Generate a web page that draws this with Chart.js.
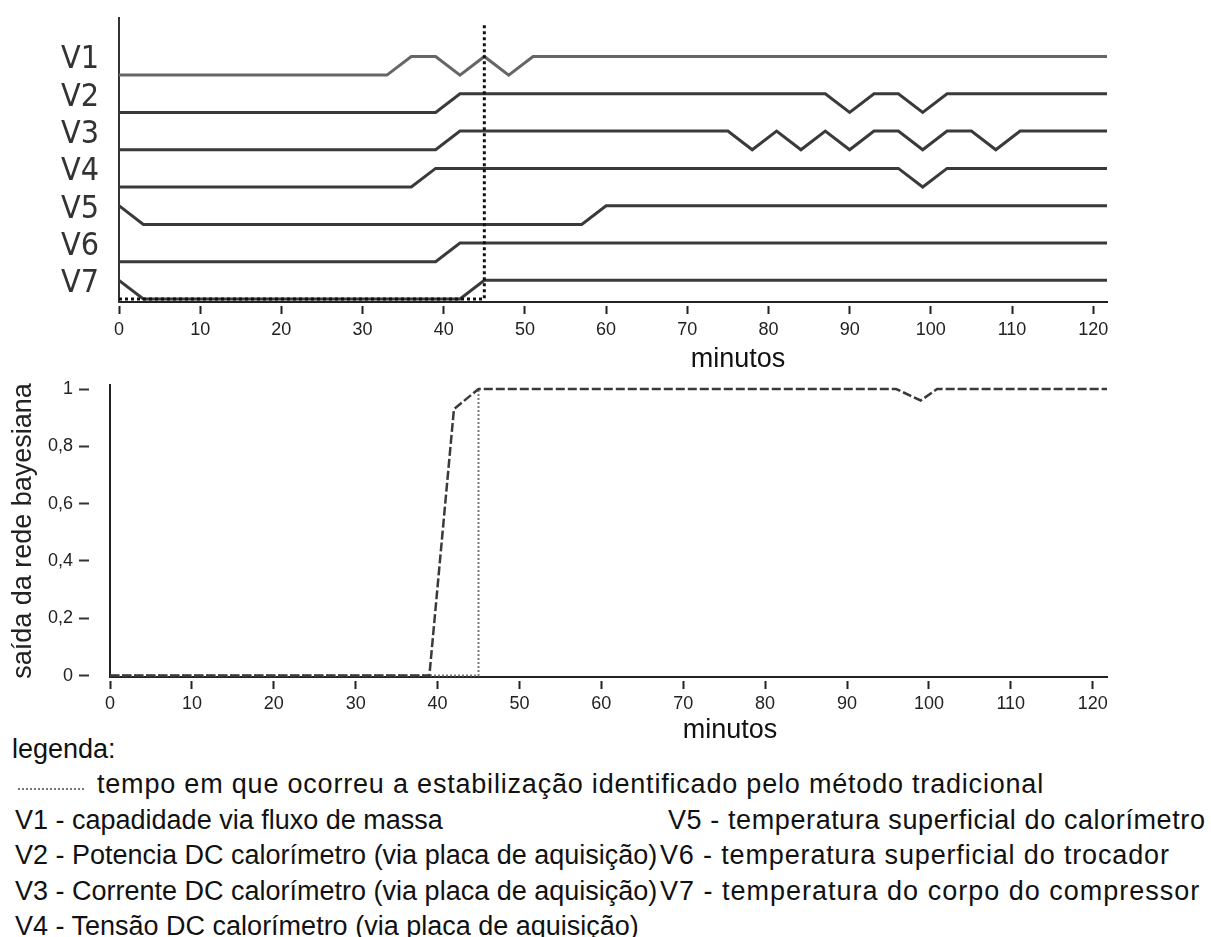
<!DOCTYPE html>
<html>
<head>
<meta charset="utf-8">
<script src="https://cdn.jsdelivr.net/npm/chart.js@4.4.1/dist/chart.umd.min.js"></script>
<style>
  body { margin: 0; background: #fff; width: 1211px; height: 937px; position: relative; overflow: hidden;
         font-family: "Liberation Sans", Arial, sans-serif; color: #111; }
  canvas { position: absolute; left: 0; }
  #topChart { top: 0; }
  #bottomChart { top: 345px; }
  .txt { position: absolute; font-size: 27px; line-height: 30px; white-space: nowrap; }
  .dots { position: absolute; height: 2px;
          background: repeating-linear-gradient(90deg, #777 0 2px, transparent 2px 4px); }
</style>
</head>
<body>
<canvas id="topChart" width="1211" height="345"></canvas>
<canvas id="bottomChart" width="1211" height="380"></canvas>

<div class="txt" style="left:638px;top:343px;width:200px;text-align:center">minutos</div>
<div class="txt" style="left:630px;top:714px;width:200px;text-align:center">minutos</div>

<div class="txt" style="left:12px;top:734px">legenda:</div>
<div class="dots" style="left:18px;top:788px;width:67px"></div>
<div class="txt" style="left:97px;top:769px;letter-spacing:0.8px">tempo em que ocorreu a estabilização identificado pelo método tradicional</div>
<div class="txt" style="left:15px;top:805px">V1 - capadidade via fluxo de massa</div>
<div class="txt" style="left:15px;top:840px">V2 - Potencia DC calorímetro (via placa de aquisição)</div>
<div class="txt" style="left:15px;top:876px">V3 - Corrente DC calorímetro (via placa de aquisição)</div>
<div class="txt" style="left:15px;top:911px">V4 - Tensão DC calorímetro (via placa de aquisição)</div>
<div class="txt" style="left:668px;top:805px;letter-spacing:0.6px">V5 - temperatura superficial do calorímetro</div>
<div class="txt" style="left:660px;top:840px;letter-spacing:0.85px">V6 - temperatura superficial do trocador</div>
<div class="txt" style="left:660px;top:876px;letter-spacing:1px">V7 - temperatura do corpo do compressor</div>

<script>
const rowNames = ["V1", "V2", "V3", "V4", "V5", "V6", "V7"];

// [minuto, nível 0/1] de cada variável
const v1 = [[0, 0], [33, 0], [36, 1], [39, 1], [42, 0], [45, 1], [48, 0], [51, 1], [122, 1]];
const v2 = [[0, 0], [39, 0], [42, 1], [87, 1], [90, 0], [93, 1], [96, 1], [99, 0], [102, 1], [122, 1]];
const v3 = [[0, 0], [39, 0], [42, 1], [75, 1], [78, 0], [81, 1], [84, 0], [87, 1], [90, 0], [93, 1],
            [96, 1], [99, 0], [102, 1], [105, 1], [108, 0], [111, 1], [122, 1]];
const v4 = [[0, 0], [36, 0], [39, 1], [96, 1], [99, 0], [102, 1], [122, 1]];
const v5 = [[0, 1], [3, 0], [57, 0], [60, 1], [122, 1]];
const v6 = [[0, 0], [39, 0], [42, 1], [122, 1]];
const v7 = [[0, 1], [3, 0], [42, 0], [45, 1], [122, 1]];

// saída da rede bayesiana e método tradicional
const bayesOut = [[0, 0], [39, 0], [42, 0.93], [45, 1], [96, 1], [99, 0.96], [101, 1], [122, 1]];
const tradicional = [[0, 0], [45, 0], [45, 1]];

const xTicks = [0, 10, 20, 30, 40, 50, 60, 70, 80, 90, 100, 110, 120];
const yTicks = [0, 0.2, 0.4, 0.6, 0.8, 1];

Chart.defaults.font.family = "'Liberation Sans', Arial, sans-serif";

const series = [v1, v2, v3, v4, v5, v6, v7];
const dotTop = 7.39;

// 📈 gráfico de cima
const topSets = series.map((s, i) => ({
  data: s.map(([m, l]) => ({ x: m, y: 6 - i + l * 0.5 })),
  borderColor: i === 0 ? "#666" : "#3a3a3a",
  borderWidth: 3,
  pointRadius: 0,
  tension: 0,
}));
topSets.unshift({
  data: tradicional.map(([m, l]) => ({ x: m, y: l ? dotTop : 0 })),
  borderColor: "#111",
  borderWidth: 3,
  borderDash: [3, 3],
  pointRadius: 0,
  tension: 0,
});

new Chart(document.getElementById("topChart"), {
  type: "line",
  data: { datasets: topSets },
  options: {
    responsive: false,
    animation: false,
    devicePixelRatio: 1,
    layout: { padding: { top: 18, right: 104, left: 0, bottom: 0 } },
    plugins: { legend: { display: false }, tooltip: { enabled: false } },
    scales: {
      x: {
        type: "linear", min: 0, max: 121.7,
        afterBuildTicks: s => { s.ticks = xTicks.map(v => ({ value: v })); },
        afterFit: s => { s.height = 43; },
        grid: { drawOnChartArea: false, tickLength: 12, tickWidth: 2, tickColor: "#222", tickBorderDash: [0, 3, 8, 100] },
        border: { color: "#222", width: 2 },
        ticks: { color: "#222", font: { size: 18 }, padding: 5, maxRotation: 0, autoSkip: false },
      },
      y: {
        type: "linear", min: -0.08, max: 7.53,
        afterBuildTicks: s => { s.ticks = rowNames.map((n, i) => ({ value: 6 - i + 0.4 })); },
        afterFit: s => { s.width = 119; s.paddingTop = 0; s.paddingBottom = 0; },
        grid: { display: false },
        border: { color: "#333", width: 2 },
        ticks: {
          color: "#333", padding: 12, autoSkip: false,
          font: { family: "'Liberation Sans Narrow', 'DejaVu Sans Condensed', sans-serif", size: 32 },
          callback: (v, i) => rowNames[i],
        },
      },
    },
  },
});

// 📉 gráfico de baixo
new Chart(document.getElementById("bottomChart"), {
  type: "line",
  data: {
    datasets: [
      {
        data: bayesOut.map(([m, v]) => ({ x: m, y: v })),
        borderColor: "#3a3a3a", borderWidth: 2.5, borderDash: [9, 3], pointRadius: 0, tension: 0,
      },
      {
        data: tradicional.map(([m, v]) => ({ x: m, y: v })),
        borderColor: "#777", borderWidth: 2, borderDash: [2, 2], pointRadius: 0, tension: 0,
      },
    ],
  },
  options: {
    responsive: false,
    animation: false,
    devicePixelRatio: 1,
    layout: { padding: { top: 40, right: 104, left: 0, bottom: 0 } },
    plugins: { legend: { display: false }, tooltip: { enabled: false } },
    scales: {
      x: {
        type: "linear", min: 0, max: 121.75,
        afterBuildTicks: s => { s.ticks = xTicks.map(v => ({ value: v })); },
        afterFit: s => { s.height = 48; },
        grid: { drawOnChartArea: false, tickLength: 12, tickWidth: 2, tickColor: "#222", tickBorderDash: [0, 3, 8, 100] },
        border: { color: "#222", width: 2 },
        ticks: { color: "#222", font: { size: 18 }, padding: 4, maxRotation: 0, autoSkip: false },
      },
      y: {
        type: "linear", min: -0.005, max: 1.014,
        afterBuildTicks: s => { s.ticks = yTicks.map(v => ({ value: v })); },
        afterFit: s => { s.width = 110; s.paddingTop = 0; s.paddingBottom = 0; },
        grid: { drawOnChartArea: false, tickLength: 31, tickWidth: 2, tickColor: "#333", tickBorderDash: [10, 100] },
        border: { color: "#222", width: 2 },
        ticks: {
          color: "#222", padding: 6, autoSkip: false, font: { size: 18 },
          callback: v => String(v).replace(".", ","),
        },
        title: {
          display: true, text: "saída da rede bayesiana", color: "#222",
          font: { size: 27 }, padding: { top: 7, bottom: 0 },
        },
      },
    },
  },
});
</script>
</body>
</html>
